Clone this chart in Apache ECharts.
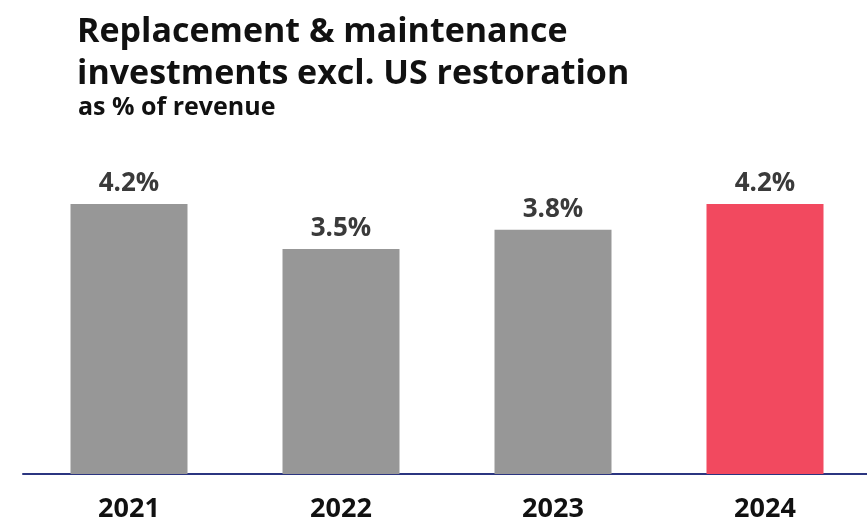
<!DOCTYPE html>
<html>
<head>
<meta charset="utf-8">
<style>
  html, body { margin: 0; padding: 0; background: #ffffff; }
  #chart { width: 867px; height: 519px; }
</style>
<script src="https://cdn.jsdelivr.net/npm/echarts@6/dist/echarts.min.js"></script>
</head>
<body>
<div id="chart"></div>
<script>
// Years on the category axis
const years = ['2021', '2022', '2023', '2024'];
// Replacement & maintenance investments, % of revenue
const shares = [4.2, 3.5, 3.8, 4.2];
// Bar fills: earlier years grey, latest year highlighted
const barColors = ['#979797', '#979797', '#979797', '#F2495F'];

const chart = echarts.init(document.getElementById('chart'), null, { renderer: 'canvas' });

chart.setOption({
  backgroundColor: '#ffffff',
  animation: false,
  title: [
    {
      text: 'Replacement & maintenance\ninvestments excl. US restoration',
      left: 72,
      top: 6,
      textStyle: {
        fontFamily: 'Open Sans',
        fontWeight: 700,
        fontSize: 34,
        lineHeight: 42,
        color: '#111111'
      }
    },
    {
      text: 'as % of revenue',
      left: 73,
      top: 90,
      textStyle: {
        fontFamily: 'Open Sans',
        fontWeight: 700,
        fontSize: 25,
        color: '#111111'
      }
    }
  ],
  grid: { left: 23, top: 24, right: -4, bottom: 45, outerBoundsMode: 'none', containLabel: false },
  xAxis: {
    type: 'category',
    data: years,
    axisLine: { show: true, lineStyle: { color: '#2B3580', width: 2 } },
    axisTick: { show: false },
    axisLabel: {
      margin: 22,
      fontFamily: 'Open Sans',
      fontWeight: 700,
      fontSize: 27,
      color: '#111111'
    }
  },
  yAxis: {
    type: 'value',
    min: 0,
    max: 7,
    show: false,
    splitLine: { show: false }
  },
  series: [
    {
      type: 'bar',
      data: shares.map((v, i) => ({ value: v, itemStyle: { color: barColors[i] } })),
      barWidth: 117,
      label: {
        show: true,
        position: 'top',
        distance: 7,
        formatter: p => p.value.toFixed(1) + '%',
        fontFamily: 'Open Sans',
        fontWeight: 700,
        fontSize: 26,
        color: '#3A3A3A'
      }
    }
  ]
});
</script>
</body>
</html>
